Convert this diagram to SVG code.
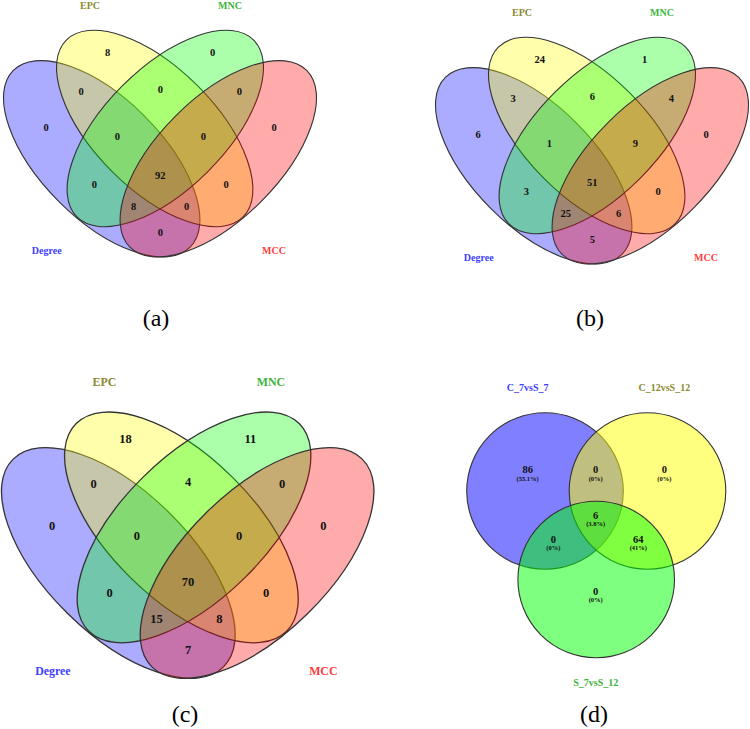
<svg xmlns="http://www.w3.org/2000/svg" width="750" height="729" viewBox="0 0 750 729">
<style>
.o{stroke:#333;stroke-width:1.1;vector-effect:non-scaling-stroke}
.fb{fill:#0000ff;fill-opacity:.33}
.fy{fill:#ffff00;fill-opacity:.33}
.fg{fill:#00ff00;fill-opacity:.33}
.fr{fill:#ff0000;fill-opacity:.33}
.cb{fill:#0000ff;fill-opacity:.5}
.cy{fill:#ffff00;fill-opacity:.5}
.cg{fill:#00ff00;fill-opacity:.5}
text{font-family:"Liberation Serif","Times New Roman",serif;text-anchor:middle}
.n{font-weight:bold;font-size:10.5px;fill:#111}
.p{font-weight:bold;font-size:6.5px;fill:#111}
.l{font-weight:bold;font-size:10px}
.lb{fill:#4040ff}.ly{fill:#8a8a30}.lg{fill:#3cb43c}.lr{fill:#ff3c3c}
.t{font-size:24px;fill:#000}
</style>
<defs>
<ellipse id="eB" cx="101.7" cy="158.8" rx="125" ry="60.5" transform="rotate(45 101.7 158.8)"/>
<ellipse id="eY" cx="154.7" cy="128.5" rx="125" ry="60.5" transform="rotate(45 154.7 128.5)"/>
<ellipse id="eG" cx="165.3" cy="128.5" rx="125" ry="60.5" transform="rotate(-45 165.3 128.5)"/>
<ellipse id="eR" cx="218.3" cy="158.8" rx="125" ry="60.5" transform="rotate(-45 218.3 158.8)"/>
</defs>

<g id="panel-a">
 <g id="a-degree"><use href="#eB" class="fb o"/><text class="l lb" x="46.7" y="253.8">Degree</text></g>
 <g id="a-epc"><use href="#eY" class="fy o"/><text class="l ly" x="90" y="8.5">EPC</text></g>
 <g id="a-mnc"><use href="#eG" class="fg o"/><text class="l lg" x="230" y="8.5">MNC</text></g>
 <g id="a-mcc"><use href="#eR" class="fr o"/><text class="l lr" x="274" y="253.8">MCC</text></g>
 <g id="a-counts">
  <text class="n" x="107.7" y="56.3">8</text>
  <text class="n" x="212.7" y="56.3">0</text>
  <text class="n" x="81" y="95.3">0</text>
  <text class="n" x="160.3" y="92.9">0</text>
  <text class="n" x="239.3" y="95.3">0</text>
  <text class="n" x="46" y="130.9">0</text>
  <text class="n" x="274" y="130.9">0</text>
  <text class="n" x="117.3" y="139.6">0</text>
  <text class="n" x="203.3" y="139.6">0</text>
  <text class="n" x="160.3" y="178.6">92</text>
  <text class="n" x="94.3" y="187.6">0</text>
  <text class="n" x="226" y="187.6">0</text>
  <text class="n" x="133.7" y="210.3">8</text>
  <text class="n" x="186.7" y="210.3">0</text>
  <text class="n" x="160.3" y="235.9">0</text>
 </g>
</g>
<text id="cap-a" class="t" x="156" y="326">(a)</text>

<g id="panel-b" transform="translate(432 7)">
 <g id="b-degree"><use href="#eB" class="fb o"/><text class="l lb" x="46.7" y="253.8">Degree</text></g>
 <g id="b-epc"><use href="#eY" class="fy o"/><text class="l ly" x="90" y="8.5">EPC</text></g>
 <g id="b-mnc"><use href="#eG" class="fg o"/><text class="l lg" x="230" y="8.5">MNC</text></g>
 <g id="b-mcc"><use href="#eR" class="fr o"/><text class="l lr" x="274" y="253.8">MCC</text></g>
 <g id="b-counts">
  <text class="n" x="107.7" y="56.3">24</text>
  <text class="n" x="212.7" y="56.3">1</text>
  <text class="n" x="81" y="95.3">3</text>
  <text class="n" x="160.3" y="92.9">6</text>
  <text class="n" x="239.3" y="95.3">4</text>
  <text class="n" x="46" y="130.9">6</text>
  <text class="n" x="274" y="130.9">0</text>
  <text class="n" x="117.3" y="139.6">1</text>
  <text class="n" x="203.3" y="139.6">9</text>
  <text class="n" x="160.3" y="178.6">51</text>
  <text class="n" x="94.3" y="187.6">3</text>
  <text class="n" x="226" y="187.6">0</text>
  <text class="n" x="133.7" y="210.3">25</text>
  <text class="n" x="186.7" y="210.3">6</text>
  <text class="n" x="160.3" y="235.9">5</text>
 </g>
</g>
<text id="cap-b" class="t" x="590" y="326">(b)</text>

<g id="panel-c" transform="translate(-2.7 376.4) scale(1.19 1.175)">
 <g id="c-degree"><use href="#eB" class="fb o"/><text class="l lb" x="46.7" y="253.8">Degree</text></g>
 <g id="c-epc"><use href="#eY" class="fy o"/><text class="l ly" x="90" y="8.5">EPC</text></g>
 <g id="c-mnc"><use href="#eG" class="fg o"/><text class="l lg" x="230" y="8.5">MNC</text></g>
 <g id="c-mcc"><use href="#eR" class="fr o"/><text class="l lr" x="274" y="253.8">MCC</text></g>
 <g id="c-counts">
  <text class="n" x="107.7" y="56.3">18</text>
  <text class="n" x="212.7" y="56.3">11</text>
  <text class="n" x="81" y="95.3">0</text>
  <text class="n" x="160.3" y="92.9">4</text>
  <text class="n" x="239.3" y="95.3">0</text>
  <text class="n" x="46" y="130.9">0</text>
  <text class="n" x="274" y="130.9">0</text>
  <text class="n" x="117.3" y="139.6">0</text>
  <text class="n" x="203.3" y="139.6">0</text>
  <text class="n" x="160.3" y="178.6">70</text>
  <text class="n" x="94.3" y="187.6">0</text>
  <text class="n" x="226" y="187.6">0</text>
  <text class="n" x="133.7" y="210.3">15</text>
  <text class="n" x="186.7" y="210.3">8</text>
  <text class="n" x="160.3" y="235.9">7</text>
 </g>
</g>
<text id="cap-c" class="t" x="185" y="722.4">(c)</text>

<g id="panel-d">
 <g id="d-c7s7"><circle class="cb o" cx="545" cy="491" r="78.3"/><text class="l lb" x="527.7" y="390.6">C_7vsS_7</text></g>
 <g id="d-c12s12"><circle class="cy o" cx="647.5" cy="491" r="78.3"/><text class="l ly" x="664.3" y="390.6">C_12vsS_12</text></g>
 <g id="d-s7s12"><circle class="cg o" cx="596.2" cy="579.5" r="78.3"/><text class="l lg" x="595.7" y="685.6">S_7vsS_12</text></g>
 <g id="d-counts">
  <text class="n" x="527.7" y="472.8">86</text><text class="p" x="527.7" y="481">(55.1%)</text>
  <text class="n" x="595.7" y="472.8">0</text><text class="p" x="595.7" y="481">(0%)</text>
  <text class="n" x="664.3" y="472.8">0</text><text class="p" x="664.3" y="481">(0%)</text>
  <text class="n" x="595.7" y="519.2">6</text><text class="p" x="595.7" y="526.3">(3.8%)</text>
  <text class="n" x="553.3" y="542.5">0</text><text class="p" x="553.3" y="550">(0%)</text>
  <text class="n" x="638.3" y="542.5">64</text><text class="p" x="638.3" y="550">(41%)</text>
  <text class="n" x="595.7" y="595.2">0</text><text class="p" x="595.7" y="602.3">(0%)</text>
 </g>
</g>
<text id="cap-d" class="t" x="594" y="722.4">(d)</text>
</svg>
